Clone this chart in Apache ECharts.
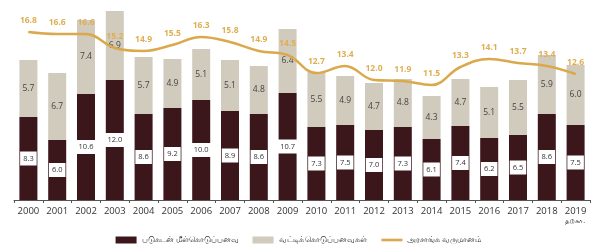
<!DOCTYPE html>
<html>
<head>
<meta charset="utf-8">
<script src="https://cdn.jsdelivr.net/npm/echarts@6/dist/echarts.min.js"></script>
<style>
  html, body { margin: 0; padding: 0; background: #fff; }
  #main { width: 597px; height: 247px; }
</style>
</head>
<body>
<div id="main"></div>
<script>
// ஆண்டுகள்
var years = ["2000", "2001", "2002", "2003", "2004", "2005", "2006", "2007", "2008", "2009",
  "2010", "2011", "2012", "2013", "2014", "2015", "2016", "2017", "2018", "2019"];
// படுகடன் மீள்கொடுப்பனவு
var debtRepay = [8.3, 6.0, 10.6, 12.0, 8.6, 9.2, 10.0, 8.9, 8.6, 10.7,
  7.3, 7.5, 7.0, 7.3, 6.1, 7.4, 6.2, 6.5, 8.6, 7.5];
// வட்டிக் கொடுப்பனவுகள்
var interest = [5.7, 6.7, 7.4, 6.9, 5.7, 4.9, 5.1, 5.1, 4.8, 6.4,
  5.5, 4.9, 4.7, 4.8, 4.3, 4.7, 5.1, 5.5, 5.9, 6.0];
// அரசாங்க வருமானம்
var revenue = [16.8, 16.6, 16.6, 15.2, 14.9, 15.5, 16.3, 15.8, 14.9, 14.5,
  12.7, 13.4, 12.0, 11.9, 11.5, 13.3, 14.1, 13.7, 13.4, 12.6];

var dark = "#3b171c";
var beige = "#d1cbbd";
var gold = "#dba84b";
var font = "'Open Sans', 'Noto Sans', sans-serif";

var myChart = echarts.init(document.getElementById("main"));
var option = {
  animation: false,
  textStyle: { fontFamily: font },
  grid: { left: 14, right: 7, top: -2, bottom: 47, containLabel: false },
  legend: {
    bottom: -2,
    left: "center",
    itemWidth: 21,
    itemHeight: 7,
    itemGap: 14,
    textStyle: { fontSize: 7.5, color: "#333", fontFamily: font },
    data: [
      { name: "படுகடன் மீள்கொடுப்பனவு", icon: "rect" },
      { name: "வட்டிக் கொடுப்பனவுகள்", icon: "rect" },
      { name: "அரசாங்க வருமானம்", icon: "path://M0,0 L20,0 L20,2.5 L0,2.5 Z" }
    ]
  },
  xAxis: {
    type: "category",
    data: years,
    axisLine: { lineStyle: { color: "#555", width: 1 } },
    axisTick: { show: true, lineStyle: { color: "#555" }, length: 3 },
    axisLabel: { color: "#333", fontSize: 9.5, margin: 6, fontFamily: font }
  },
  yAxis: {
    type: "value",
    min: 0,
    max: 20,
    show: false,
    splitLine: { show: false }
  },
  graphic: [{
    type: "text",
    right: 12,
    top: 217,
    style: { text: "தற்கா.", fontSize: 7, fill: "#333", fontFamily: font }
  }],
  series: [
    {
      name: "படுகடன் மீள்கொடுப்பனவு",
      type: "bar",
      stack: "pay",
      barWidth: 18,
      itemStyle: { color: dark },
      label: {
        show: true,
        position: "inside",
        color: "#333",
        fontSize: 7.5,
        backgroundColor: "#fff",
        padding: [3, 3],
        formatter: function (p) { return p.value.toFixed(1); }
      },
      data: debtRepay
    },
    {
      name: "வட்டிக் கொடுப்பனவுகள்",
      type: "bar",
      stack: "pay",
      barWidth: 18,
      itemStyle: { color: beige },
      label: {
        show: true,
        position: "inside",
        color: "#444",
        fontSize: 8.5,
        formatter: function (p) { return p.value.toFixed(1); }
      },
      data: interest
    },
    {
      name: "அரசாங்க வருமானம்",
      type: "line",
      smooth: 0.4,
      symbol: "circle",
      symbolSize: 1,
      showSymbol: true,
      z: 5,
      lineStyle: { color: gold, width: 2.5 },
      itemStyle: { color: gold },
      label: {
        show: true,
        position: "top",
        distance: 6,
        color: "#e0ae52",
        fontSize: 8.5,
        fontWeight: "bold",
        formatter: function (p) { return p.value.toFixed(1); }
      },
      data: revenue
    }
  ]
};
myChart.setOption(option);
</script>
</body>
</html>
